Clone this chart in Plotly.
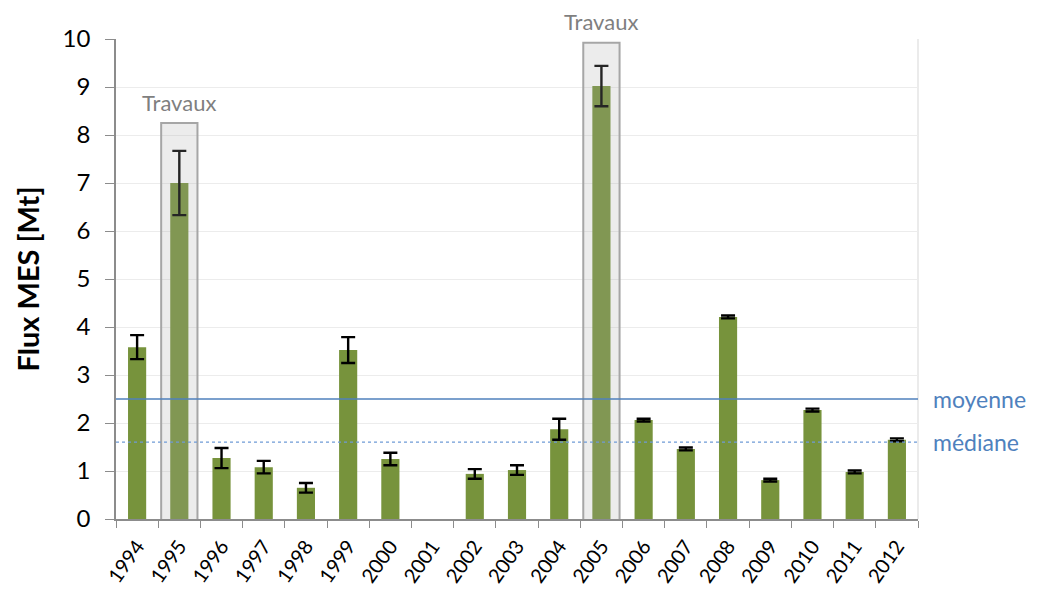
import plotly.graph_objects as go

years = ["1994", "1995", "1996", "1997", "1998", "1999", "2000", "2001", "2002", "2003",
         "2004", "2005", "2006", "2007", "2008", "2009", "2010", "2011", "2012"]
flux = [3.58, 7.0, 1.27, 1.08, 0.65, 3.52, 1.25, None, 0.94, 1.02,
        1.87, 9.02, 2.06, 1.46, 4.21, 0.81, 2.27, 0.98, 1.65]
err = [0.25, 0.67, 0.21, 0.13, 0.10, 0.27, 0.13, None, 0.10, 0.10,
       0.22, 0.42, 0.03, 0.03, 0.03, 0.03, 0.03, 0.03, 0.03]
travaux_years = ["1995", "2005"]
travaux_box_top = [8.25, 9.92]
travaux_label_y = [8.67, 10.36]
moyenne = 2.5
mediane = 1.6
y_max = 10

green = "#77933c"
blue = "#4f81bd"
font = "Lato"

fig = go.Figure()
fig.add_trace(go.Bar(
    x=years, y=flux, width=0.43,
    marker=dict(color=green, line=dict(width=0)),
    error_y=dict(type="data", array=err, color="black", thickness=2.4, width=7, visible=True),
))

shapes = []
annotations = []
for yr, top, ly in zip(travaux_years, travaux_box_top, travaux_label_y):
    i = years.index(yr)
    shapes.append(dict(type="rect", xref="x", yref="y", x0=i - 0.43, x1=i + 0.43,
                       y0=-0.07, y1=top, layer="above",
                       fillcolor="rgba(170,170,170,0.22)",
                       line=dict(color="#a6a6a6", width=2)))
    annotations.append(dict(x=i, y=ly / y_max, xref="x", yref="paper", yanchor="middle",
                            text="Travaux", showarrow=False,
                            font=dict(family=font, size=22, color="#7f7f7f")))

shapes.append(dict(type="line", xref="paper", yref="y", x0=0, x1=1, y0=moyenne, y1=moyenne,
                   line=dict(color=blue, width=1.5), layer="above"))
shapes.append(dict(type="line", xref="paper", yref="y", x0=0, x1=1, y0=mediane, y1=mediane,
                   line=dict(color="#6f9bd6", width=1.2, dash="dot"), layer="above"))
annotations.append(dict(x=1.016, y=moyenne, xref="paper", yref="y", text="moyenne", showarrow=False,
                        xanchor="left", yanchor="middle", font=dict(family=font, size=23, color="#4f81bd")))
annotations.append(dict(x=1.016, y=mediane, xref="paper", yref="y", text="médiane", showarrow=False,
                        xanchor="left", yanchor="middle", font=dict(family=font, size=23, color="#4f81bd")))
# right plot border
shapes.append(dict(type="line", xref="paper", yref="paper", x0=1, x1=1, y0=0, y1=1,
                   line=dict(color="#e4e4e4", width=1.5), layer="below"))

fig.update_layout(
    width=1041, height=592,
    margin=dict(l=108, r=131, t=31, b=81, autoexpand=False),
    plot_bgcolor="white", paper_bgcolor="white",
    showlegend=False, bargap=0.5,
    shapes=shapes, annotations=annotations,
    font=dict(family=font, color="black"),
    xaxis=dict(type="category", tickangle=-55, tickfont=dict(size=20, family=font),
               showline=True, linecolor="#8c8c8c", linewidth=1.5,
               ticks="outside", tickson="boundaries", ticklen=7, tickcolor="#8c8c8c",
               ticklabelstandoff=6,
               showgrid=False, range=[-0.5, len(years) - 0.5]),
    yaxis=dict(range=[0, y_max], dtick=1, tick0=0, tickfont=dict(size=24, family=font),
               showline=True, linecolor="#8c8c8c", linewidth=1.5,
               ticks="outside", ticklen=9, tickcolor="#8c8c8c", ticklabelstandoff=10,
               showgrid=True, gridcolor="#ececec", gridwidth=1, zeroline=False,
               title=dict(text="<b>Flux MES [Mt]</b>", font=dict(size=29, family=font), standoff=14)),
)

fig.write_html("out.html")
